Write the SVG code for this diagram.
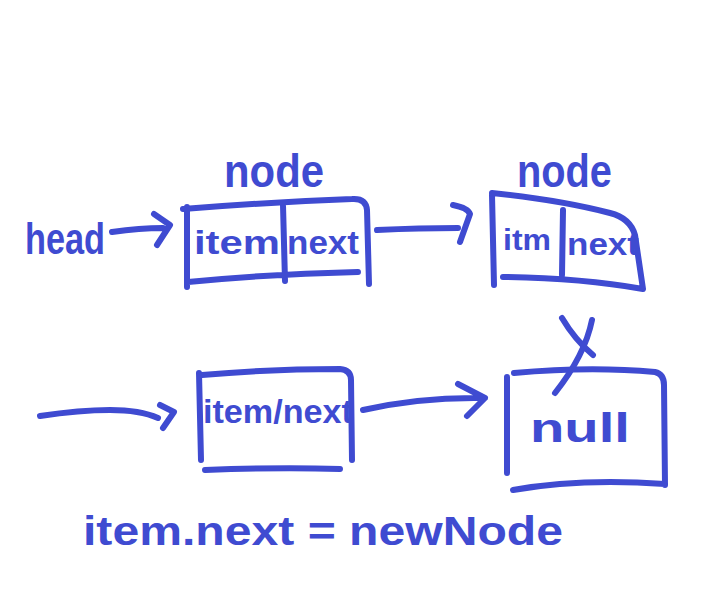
<svg xmlns="http://www.w3.org/2000/svg" width="710" height="599" viewBox="0 0 710 599">
<style>
.s{fill:none;stroke:#3f4bd1;stroke-width:6;stroke-linecap:round;stroke-linejoin:round}
.t{fill:#3f4bd1;font-family:"Liberation Sans",Arial,sans-serif;font-weight:bold}
</style>
<rect width="710" height="599" fill="#fff"/>
<g id="head"><text class="t" x="25" y="254" font-size="44" textLength="80" lengthAdjust="spacingAndGlyphs">head</text></g>
<g id="node1">
<text class="t" x="224" y="187" font-size="46" textLength="100" lengthAdjust="spacingAndGlyphs">node</text>
<path class="s" d="M187 207 L187 287 M183 209 Q270 202 352 199 Q366 198 367 210 L369 284 M188 282 Q270 274 358 272 M283 205 L285 281"/>
<text class="t" x="194" y="254" font-size="34" textLength="86" lengthAdjust="spacingAndGlyphs">item</text>
<text class="t" x="287" y="254" font-size="34" textLength="72" lengthAdjust="spacingAndGlyphs">next</text>
</g>
<g id="node2">
<text class="t" x="517" y="187" font-size="46" textLength="95" lengthAdjust="spacingAndGlyphs">node</text>
<path class="s" d="M492 195 L494 285 M492 193 Q560 200 610 213 Q630 218 635 235 L643 289 M503 277 Q580 278 643 289 M563 210 L562 275"/>
<text class="t" x="503" y="250" font-size="30" textLength="48" lengthAdjust="spacingAndGlyphs">itm</text>
<text class="t" x="567" y="255" font-size="32" textLength="72" lengthAdjust="spacingAndGlyphs">next</text>
</g>
<g id="node3">
<path class="s" d="M199 373 L201 460 M202 375 Q270 369 340 369 Q351 370 351 380 L352 460 M205 470 Q280 467 340 469"/>
<text class="t" x="203" y="423" font-size="34" textLength="150" lengthAdjust="spacingAndGlyphs">item/next</text>
</g>
<g id="node4">
<path class="s" d="M507 377 L507 473 M514 373 Q590 366 655 372 Q664 374 664 385 L665 485 M513 490 Q580 478 665 484"/>
<text class="t" x="530" y="442" font-size="40" textLength="100" lengthAdjust="spacingAndGlyphs">null</text>
<path class="s" d="M562 318 Q575 340 593 355 M592 320 Q585 355 555 393"/>
</g>
<g id="connectors">
<path class="s" d="M112 232 Q140 228 163 228 M154 214 L170 225 L157 245"/>
<path class="s" d="M377 230 Q420 228 458 228 M453 205 Q468 208 470 214 L460 242"/>
<path class="s" d="M40 416 Q80 410 110 410 Q140 410 158 418 M160 405 L174 412 L163 428"/>
<path class="s" d="M363 410 Q420 397 483 398 M458 384 L485 398 L467 416"/>
</g>
<g id="caption"><text class="t" x="83" y="545" font-size="40" textLength="480" lengthAdjust="spacingAndGlyphs">item.next = newNode</text></g>
</svg>
